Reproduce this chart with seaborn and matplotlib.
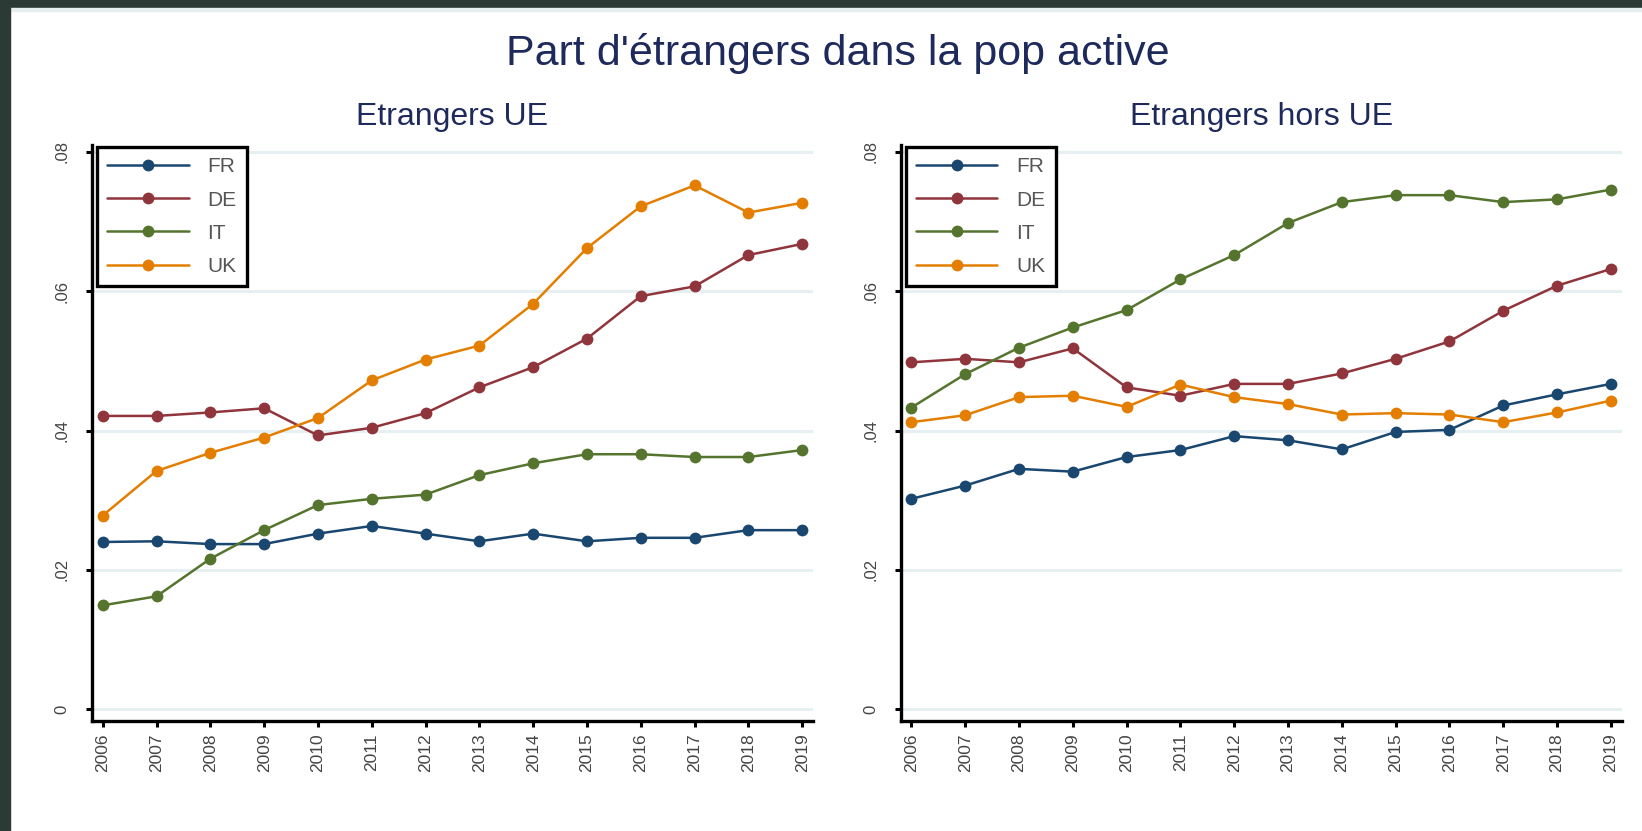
import matplotlib
matplotlib.use("Agg")
import matplotlib.pyplot as plt
from matplotlib.patches import Rectangle
import seaborn as sns
import pandas as pd

# Data (share of foreigners in the active population)
years = list(range(2006, 2020))
countries = ["FR", "DE", "IT", "UK"]

ue_fr = [0.0240, 0.0241, 0.0237, 0.0237, 0.0252, 0.0263, 0.0252, 0.0241, 0.0252, 0.0241, 0.0246, 0.0246, 0.0257, 0.0257]
ue_de = [0.0421, 0.0421, 0.0426, 0.0432, 0.0393, 0.0404, 0.0425, 0.0462, 0.0491, 0.0532, 0.0593, 0.0607, 0.0652, 0.0668]
ue_it = [0.0149, 0.0162, 0.0216, 0.0257, 0.0293, 0.0302, 0.0308, 0.0336, 0.0353, 0.0366, 0.0366, 0.0362, 0.0362, 0.0372]
ue_uk = [0.0278, 0.0342, 0.0368, 0.0390, 0.0418, 0.0472, 0.0502, 0.0522, 0.0582, 0.0662, 0.0722, 0.0752, 0.0713, 0.0727]

hue_fr = [0.0302, 0.0321, 0.0345, 0.0341, 0.0362, 0.0372, 0.0392, 0.0386, 0.0373, 0.0398, 0.0401, 0.0436, 0.0452, 0.0467]
hue_de = [0.0498, 0.0503, 0.0498, 0.0518, 0.0462, 0.0450, 0.0467, 0.0467, 0.0482, 0.0503, 0.0528, 0.0572, 0.0608, 0.0632]
hue_it = [0.0433, 0.0481, 0.0519, 0.0548, 0.0573, 0.0617, 0.0652, 0.0698, 0.0728, 0.0738, 0.0738, 0.0728, 0.0732, 0.0746]
hue_uk = [0.0412, 0.0422, 0.0448, 0.0450, 0.0434, 0.0466, 0.0448, 0.0438, 0.0423, 0.0425, 0.0423, 0.0412, 0.0426, 0.0443]

yticks = [0, 0.02, 0.04, 0.06, 0.08]
ytick_labels = ["0", ".02", ".04", ".06", ".08"]

title = "Part d'étrangers dans la pop active"
panel_titles = ["Etrangers UE", "Etrangers hors UE"]

colors = {"FR": "#1a476f", "DE": "#90353b", "IT": "#55752f", "UK": "#e37e00"}


def long_df(series):
    rows = []
    for c, vals in zip(countries, series):
        for y, v in zip(years, vals):
            rows.append({"year": y, "share": v, "country": c})
    return pd.DataFrame(rows)


panels = [long_df([ue_fr, ue_de, ue_it, ue_uk]),
          long_df([hue_fr, hue_de, hue_it, hue_uk])]

sns.set_style("white")
plt.rcParams["font.family"] = ["Liberation Sans", "DejaVu Sans"]

fig = plt.figure(figsize=(16.42, 8.31), dpi=100)
fig.patch.set_facecolor("white")

# dark frame (top / left) like the screenshot
fig.patches.append(Rectangle((0, 1 - 8 / 831), 1, 8 / 831, transform=fig.transFigure,
                             color="#2b3a35", zorder=0))
fig.patches.append(Rectangle((0, 1 - 11 / 831), 1, 3 / 831, transform=fig.transFigure,
                             color="#e6eff0", zorder=0))
fig.patches.append(Rectangle((0, 0), 10 / 1642, 1, transform=fig.transFigure,
                             color="#2b3a35", zorder=1))

ax_pos = [[0.0560, 0.1324, 0.4391, 0.6931], [0.5485, 0.1324, 0.4391, 0.6931]]
text_col = "#1f2a5c"

for pos, df, ptitle in zip(ax_pos, panels, panel_titles):
    ax = fig.add_axes(pos)
    sns.lineplot(data=df, x="year", y="share", hue="country", hue_order=countries,
                 palette=colors, marker="o", markersize=8.5, markeredgewidth=0,
                 linewidth=1.8, legend=False, ax=ax)
    ax.set_xlim(2005.8, 2019.2)
    ax.set_ylim(-0.0017, 0.081)
    ax.set_xticks(years)
    ax.set_xticklabels([str(y) for y in years], rotation=90, fontsize=12.5, color="#444444")
    ax.set_yticks(yticks)
    ax.set_yticklabels(ytick_labels, rotation=90, va="center", fontsize=12, color="#444444")
    ax.tick_params(axis="x", direction="out", length=4, width=2.2, color="black", pad=5,
                   bottom=True)
    ax.tick_params(axis="y", direction="out", length=4, width=2.2, color="black", pad=12,
                   left=True)
    ax.grid(axis="y", color="#e6eff1", linewidth=2.2)
    ax.grid(axis="x", visible=False)
    ax.set_axisbelow(True)
    ax.set_xlabel("")
    ax.set_ylabel("")
    for side in ["top", "right"]:
        ax.spines[side].set_visible(False)
    for side in ["left", "bottom"]:
        ax.spines[side].set_color("black")
        ax.spines[side].set_linewidth(2.4)

    leg = ax.legend(handles=ax.lines[:4], labels=countries, loc="upper left",
                    bbox_to_anchor=(5 / 721, 1 - 2 / 576), borderaxespad=0,
                    fontsize=15, handlelength=3.9, handletextpad=0.9,
                    labelspacing=0.68, borderpad=0.5, fancybox=False,
                    framealpha=1, edgecolor="black", numpoints=1)
    leg.get_frame().set_linewidth(2.4)
    for t in leg.get_texts():
        t.set_color("#555555")

    cx = pos[0] + pos[2] / 2
    fig.text(cx, 1 - 125.5 / 831, ptitle, ha="center", va="baseline",
             fontsize=23, color=text_col)

fig.text(0.51, 1 - 65 / 831, title, ha="center", va="baseline", fontsize=31, color=text_col)

fig.savefig("out.png", dpi=100)
